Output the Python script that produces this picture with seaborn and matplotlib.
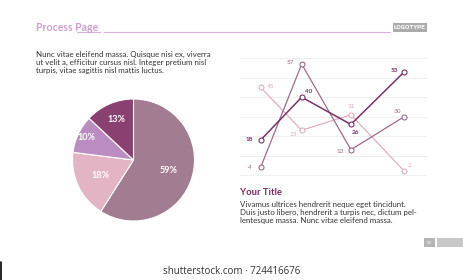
import numpy as np
import pandas as pd
import seaborn as sns
import matplotlib.pyplot as plt

W, H = 463, 280

# pie data
pie_labels = ['59%', '18%', '10%', '13%']
pie_values = [59, 18, 10, 13]
pie_colors = ['#a27c90', '#e3b4c4', '#ba8cc1', '#8b4072']

# line chart data
steps = [1.0, 2.0, 3.2, 4.5]
series_names = ['light', 'medium', 'dark']
light_vals = [45, 23, 31, 2]
medium_vals = [4, 57, 13, 30]
dark_vals = [18, 40, 26, 53]
line_colors = ['#dcb0c2', '#9d6b8a', '#7a3265']

# label offsets (points) for each series value
light_offsets = [(7, 1), (-6, -3), (0, 6), (4, 4)]
medium_offsets = [(-8, 0), (-8, 1), (-8, -1), (-5, 4)]
dark_offsets = [(-8, 0), (5, 4), (3, -6), (-7, 1)]

top_text = ['Nunc vitae eleifend massa. Quisque nisi ex, viverra',
            'ut velit a, efficitur cursus nisl. Integer pretium nisl',
            'turpis, vitae sagittis nisl mattis luctus.']
side_text = ['Vivamus ultrices hendrerit neque eget tincidunt.',
             'Duis justo libero, hendrerit a turpis nec, dictum pel-',
             'lentesque massa. Nunc vitae eleifend massa.']

sns.set_theme(style='white')
plt.rcParams['font.family'] = ['Lato', 'DejaVu Sans']

fig = plt.figure(figsize=(W / 100, H / 100), dpi=100)
fig.patch.set_facecolor('white')


def frac(x0, y0, x1, y1):
    # pixel box -> figure fraction
    return [x0 / W, 1 - y1 / H, (x1 - x0) / W, (y1 - y0) / H]


# background overlay in pixel coords
bg = fig.add_axes([0, 0, 1, 1], zorder=0)
bg.set_xlim(0, W)
bg.set_ylim(H, 0)
bg.axis('off')

bg.text(36, 27.5, 'Process Page', color='#cf9fcf', fontsize=7.6, fontweight='bold', va='center')
bg.plot([104, 390], [31.5, 31.5], color='#d8b0d8', lw=0.8)
bg.plot([76.5, 100], [31.5, 31.5], color='#d8b0d8', lw=0.8)
bg.text(410, 27.5, 'LOGOTYPE', color='white', fontsize=4.6, fontweight='bold', ha='center', va='center',
        family=['Roboto', 'DejaVu Sans'], fontstretch='condensed',
        bbox=dict(boxstyle='square,pad=0.25', fc='#ababab', ec='none'))

for i, line in enumerate(top_text):
    bg.text(36, 54 + i * 8.3, line, fontsize=5.7, color='#333333', va='center')

bg.text(240, 192.5, 'Your Title', color='#7b2d62', fontsize=6.8, fontweight='bold', va='center')
for i, line in enumerate(side_text):
    bg.text(240, 204 + i * 8.3, line, fontsize=5.7, color='#333333', va='center')

bg.add_patch(plt.Rectangle((424, 238.3), 11, 8.4, color='#b5b5b5', lw=0))
bg.text(429.5, 242.5, '60', fontsize=3.2, color='white', ha='center', va='center')
bg.add_patch(plt.Rectangle((437, 238.3), 26, 8.4, color='#c8c8c8', lw=0))

bg.text(232, 271.5, 'shutterstock.com \u00b7 724416676', fontsize=7, color='#333333',
        ha='center', va='center', family=['Open Sans', 'DejaVu Sans'])
bg.plot([0.7, 0.7], [261.5, 280], color='black', lw=1.2)

# pie
cx, cy, r = 133.5, 160, 61
pax = fig.add_axes(frac(cx - r, cy - r, cx + r, cy + r), zorder=1)
wedges, _ = pax.pie(pie_values, colors=pie_colors, startangle=90, counterclock=False,
                    radius=1, wedgeprops=dict(edgecolor='white', linewidth=0.8))
pax.set_xlim(-1, 1)
pax.set_ylim(-1, 1)
pax.set_aspect('equal')
pax.axis('off')
label_dist = [0.6, 0.6, 0.86, 0.72]
for w, lab, d in zip(wedges, pie_labels, label_dist):
    ang = np.deg2rad((w.theta1 + w.theta2) / 2)
    pax.text(d * np.cos(ang), d * np.sin(ang), lab, color='white', fontsize=6.5,
             fontweight='bold', ha='center', va='center')

# line chart
px0, px1, py0, py1 = 240, 427, 56, 177
ax = fig.add_axes(frac(px0, py0, px1, py1), zorder=2)
unit_x = 41.0
unit_y = 1.945
ax.set_xlim(1 - (260.7 - px0) / unit_x, 1 + (px1 - 260.7) / unit_x)
ax.set_ylim(-(py1 - 175) / unit_y, (175 - py0) / unit_y)

df = pd.DataFrame({
    'step': steps * 3,
    'value': light_vals + medium_vals + dark_vals,
    'series': [s for s in series_names for _ in steps],
})
for v in range(0, 61, 10):
    ax.axhline(v, color='#ededed', lw=0.6, zorder=0)
sns.lineplot(data=df, x='step', y='value', hue='series', hue_order=series_names,
             palette=line_colors, marker='o', markersize=3.6, lw=0.9, legend=False, ax=ax)
for line, c in zip(ax.lines[-3:], line_colors):
    line.set_markerfacecolor('white')
    line.set_markeredgecolor(c)
    line.set_markeredgewidth(0.8)
ax.lines[-1].set_linewidth(1.1)

for vals, offs, c, wt in [(light_vals, light_offsets, line_colors[0], 'normal'),
                          (medium_vals, medium_offsets, line_colors[1], 'normal'),
                          (dark_vals, dark_offsets, line_colors[2], 'bold')]:
    for xv, yv, off in zip(steps, vals, offs):
        ax.annotate(str(yv), (xv, yv), xytext=off, textcoords='offset points', fontsize=4.6,
                    color=c, fontweight=wt, ha='center', va='center')

ax.axis('off')

fig.savefig('out.png', dpi=100)
